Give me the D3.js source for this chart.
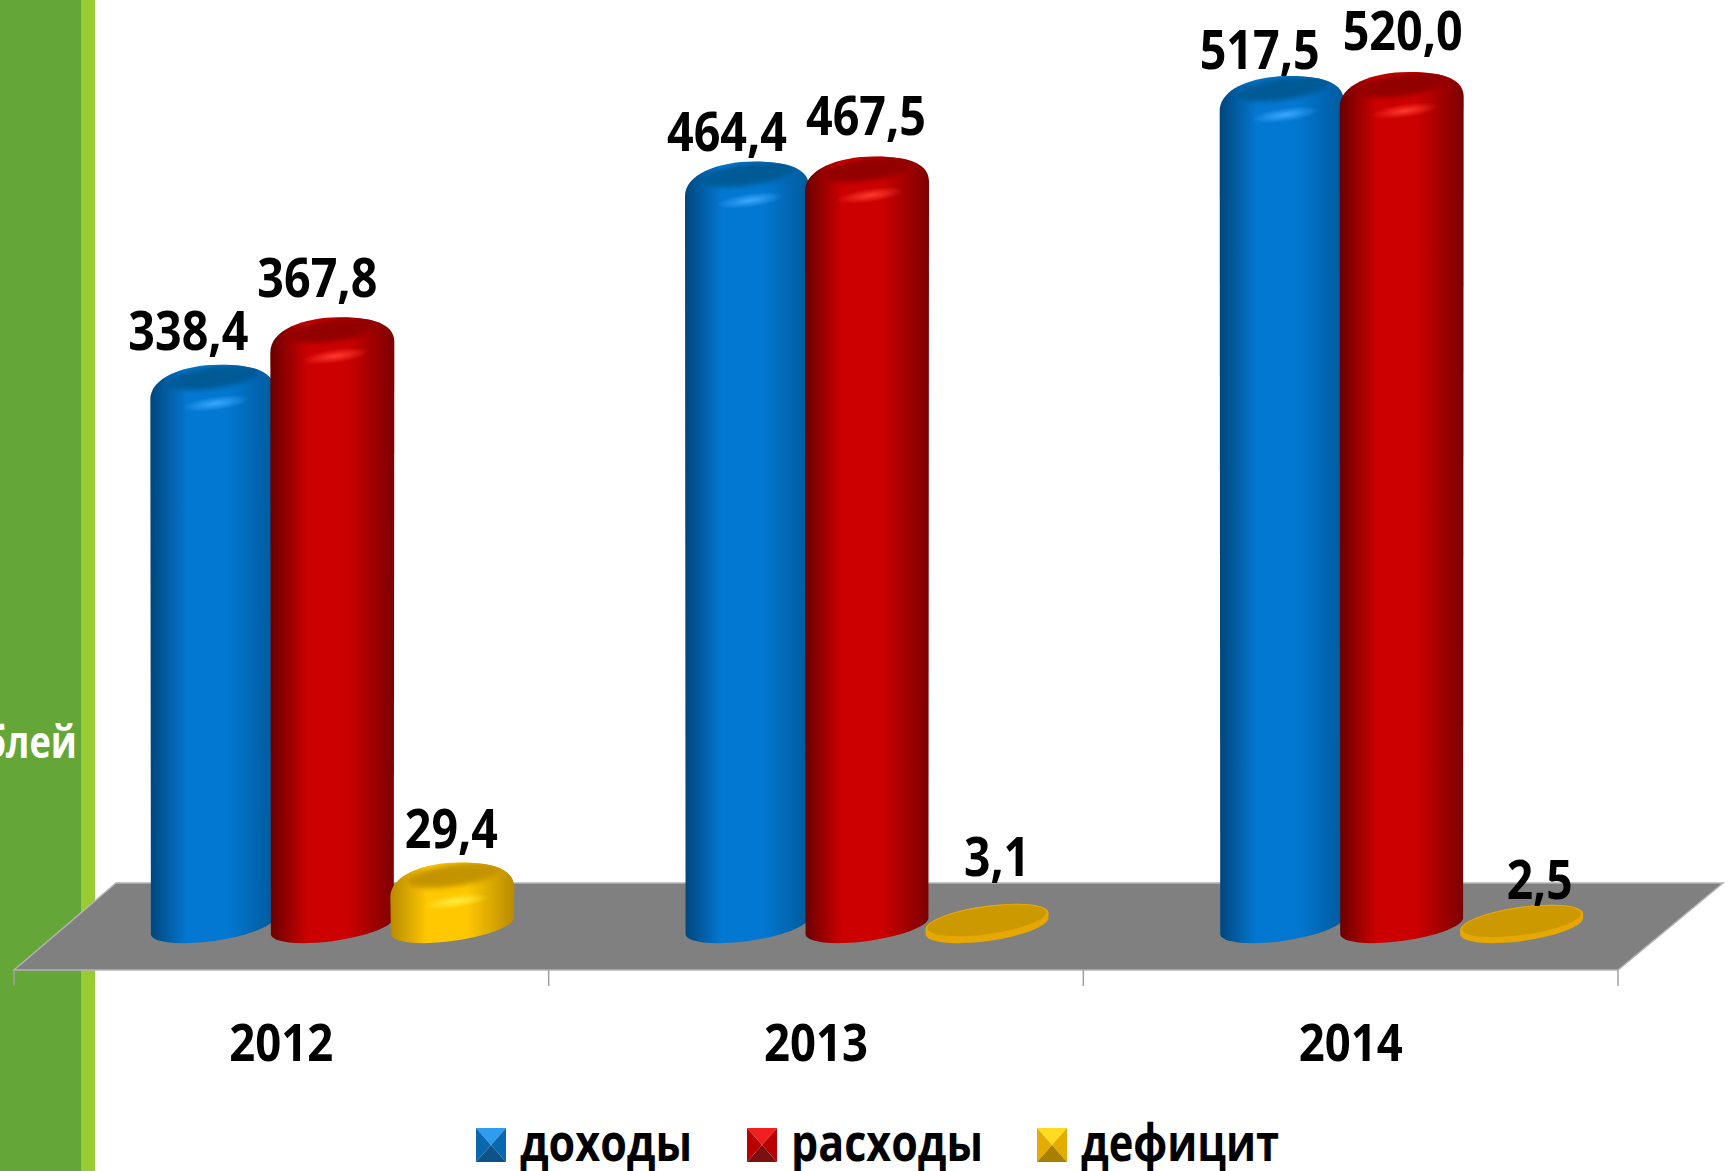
<!DOCTYPE html>
<html>
<head>
<meta charset="utf-8">
<script src="https://cdn.jsdelivr.net/npm/d3@7"></script>
<style>
  html, body { margin: 0; padding: 0; background: #fff; }
  svg { display: block; }
  text { font-family: "Open Sans", sans-serif; font-weight: 700; fill: #000; }
</style>
</head>
<body>
<div id="chart"></div>
<script>
var years = ["2012", "2013", "2014"];
var seriesNames = ["доходы", "расходы", "дефицит"];
var dohody = [338.4, 464.4, 517.5];
var rashody = [367.8, 467.5, 520.0];
var deficit = [29.4, 3.1, 2.5];

var width = 1736, height = 1171;
var rx = 62, ry = 15, tilt = -8;   // tilted ellipse of the cylinders

// hand placed data labels in the original, offset from top of each bar (year, series)
var labelDx = [[-24, -15, -1], [-20, -1, 10], [-22, 1, 18]];
var labelDy = [[-16, -21, -16], [-12, -23, -30], [-8, -23, -8]];

var colors = {
  "доходы": { edge: "#00467c", edge2: "#005a9c", mid: "#0378d2", cap: "#005a96", glow: "#3aa8ff", swTop: "#2f9cf0", swSide: "#0a68b0", swBot: "#0f5288" },
  "расходы": { edge: "#6a0000", edge2: "#7c0000", mid: "#cc0000", cap: "#930000", glow: "#ff3a30", swTop: "#f02020", swSide: "#b80000", swBot: "#7a1010" },
  "дефицит": { edge: "#b88a00", edge2: "#b88a00", mid: "#ffc800", cap: "#c49400", glow: "#ffec40", swTop: "#ffdc20", swSide: "#e4ac00", swBot: "#a88000" }
};

var svg = d3.select("#chart").append("svg")
  .attr("width", width)
  .attr("height", height);

// green strip on the left of the slide
svg.append("rect").attr("x", 0).attr("y", 0).attr("width", 81).attr("height", height).attr("fill", "#65a638");
svg.append("rect").attr("x", 81).attr("y", 0).attr("width", 14).attr("height", height).attr("fill", "#99cc33");
svg.append("text")
  .attr("x", 77).attr("y", 758)
  .attr("text-anchor", "end")
  .attr("textLength", 235)
  .attr("lengthAdjust", "spacingAndGlyphs")
  .style("font-size", "44px")
  .style("fill", "#fff")
  .text("млн. рублей");

var x = d3.scaleBand().domain(years).range([14, 1618]).paddingInner(0).paddingOuter(0);
var xSeries = d3.scalePoint().domain(seriesNames).range([-69, 171]);
var y = d3.scaleLinear().domain([0, 520]).range([926, 88]);

var defs = svg.append("defs");
seriesNames.forEach(function (name, i) {
  var c = colors[name];
  var grad = defs.append("linearGradient").attr("id", "body" + i);
  grad.append("stop").attr("offset", "0%").attr("stop-color", c.edge);
  grad.append("stop").attr("offset", "30%").attr("stop-color", c.mid);
  grad.append("stop").attr("offset", "62%").attr("stop-color", c.mid);
  grad.append("stop").attr("offset", "100%").attr("stop-color", c.edge2);

  var glow = defs.append("radialGradient").attr("id", "glow" + i);
  glow.append("stop").attr("offset", "0%").attr("stop-color", c.glow).attr("stop-opacity", 1);
  glow.append("stop").attr("offset", "100%").attr("stop-color", c.glow).attr("stop-opacity", 0);
});
var soft = defs.append("filter").attr("id", "soft")
  .attr("x", "-30%").attr("y", "-60%").attr("width", "160%").attr("height", "220%");
soft.append("feGaussianBlur").attr("stdDeviation", 2.5);

// floor
var floorG = svg.append("g");
var floorLeft = x.range()[0], floorRight = x.range()[1];
floorG.append("path")
  .attr("d", d3.line()([[floorLeft, 970], [floorLeft + 102, 883], [floorRight + 105, 883], [floorRight, 970]]) + "Z")
  .attr("fill", "#808080")
  .attr("stroke", "#b4b4b4")
  .attr("stroke-width", 1.5);

// ticks sit on the band edges
var tickPos = years.map(function (d) { return x(d); }).concat([floorRight]);
floorG.selectAll("line.tick-mark")
  .data(tickPos)
  .enter().append("line")
  .attr("class", "tick-mark")
  .attr("x1", function (d) { return d; })
  .attr("x2", function (d) { return d; })
  .attr("y1", 970)
  .attr("y2", 986)
  .attr("stroke", "#a0a0a0")
  .attr("stroke-width", 1.5);

var axis = svg.append("g")
  .attr("transform", "translate(0,1061)")
  .call(d3.axisBottom(x).tickSize(0).tickPadding(0));
axis.select(".domain").remove();
axis.selectAll("text")
  .attr("dy", 0).attr("y", 0)
  .attr("font-family", null)
  .attr("textLength", 104)
  .attr("lengthAdjust", "spacingAndGlyphs")
  .style("font-size", "52px")
  .style("fill", "#000");

function sidePoints(cx, cy) {
  var th = tilt * Math.PI / 180;
  var t = Math.atan2(-ry * Math.sin(th), rx * Math.cos(th));
  var dx = rx * Math.cos(t) * Math.cos(th) - ry * Math.sin(t) * Math.sin(th);
  var dy = rx * Math.cos(t) * Math.sin(th) + ry * Math.sin(t) * Math.cos(th);
  return { l: [cx - dx, cy - dy], r: [cx + dx, cy + dy] };
}

// flat discs: plain tilted ellipse on top
function discPath(cx, top, base) {
  var a = sidePoints(cx, top), b = sidePoints(cx, base);
  var arc = "A" + rx + "," + ry + " " + tilt + " 0 ";
  return "M" + a.l + "L" + b.l + arc + "0 " + b.r + "L" + a.r + arc + "0 " + a.l + "Z";
}

// tall bars: rounded shoulders like the bevel in the original
function bodyPath(cx, top, base) {
  var b = sidePoints(cx, base);
  var arc = "A" + rx + "," + ry + " " + tilt + " 0 ";
  return "M" + (cx - rx) + "," + (top + 19)
    + "L" + b.l + arc + "0 " + b.r
    + "L" + (cx + rx) + "," + (top + 9)
    + "C" + (cx + rx) + "," + (top - 7) + " " + (cx + rx - 16) + "," + (top - 16) + " " + (cx + 8) + "," + (top - 16)
    + "C" + (cx - 30) + "," + (top - 16) + " " + (cx - rx) + "," + (top - 3) + " " + (cx - rx) + "," + (top + 19) + "Z";
}

var allValues = [dohody, rashody, deficit];
var bars = [];
years.forEach(function (yr, yi) {
  seriesNames.forEach(function (name, si) {
    bars.push({ year: yr, yi: yi, name: name, si: si, value: allValues[si][yi] });
  });
});

var barG = svg.selectAll("g.bar")
  .data(bars)
  .enter().append("g")
  .attr("class", "bar");

barG.each(function (d, i) {
  var g = d3.select(this);
  var cx = x(d.year) + x.bandwidth() / 2 + xSeries(d.name);
  var top = y(d.value), base = y(0);
  var tall = base - top > 12;
  var rot = "rotate(" + tilt + " " + cx + " " + top + ")";

  if (tall) {
    // blurred cap must stay inside the silhouette
    defs.append("clipPath").attr("id", "clip" + i)
      .append("path").attr("d", bodyPath(cx, top, base));
    g.append("path")
      .attr("d", bodyPath(cx, top, base))
      .attr("fill", "url(#body" + d.si + ")");
    var inner = g.append("g").attr("clip-path", "url(#clip" + i + ")");
    inner.append("ellipse")
      .attr("cx", cx).attr("cy", top + 23)
      .attr("rx", 34).attr("ry", 7)
      .attr("transform", rot)
      .attr("fill", "url(#glow" + d.si + ")");
    inner.append("ellipse")
      .attr("cx", cx + 2).attr("cy", top - 3)
      .attr("rx", rx * 0.76).attr("ry", 11)
      .attr("transform", rot)
      .attr("fill", colors[d.name].cap)
      .attr("filter", "url(#soft)");
  } else {
    g.append("path")
      .attr("d", discPath(cx, top, base))
      .attr("fill", "#e6a800");
    g.append("ellipse")
      .attr("cx", cx).attr("cy", top)
      .attr("rx", rx).attr("ry", ry)
      .attr("transform", rot)
      .attr("fill", "#e6a800");
    g.append("ellipse")
      .attr("cx", cx).attr("cy", top - 0.5)
      .attr("rx", rx - 2).attr("ry", ry - 1.5)
      .attr("transform", rot)
      .attr("fill", "#cc9900");
  }
});

// value labels
svg.selectAll("text.value")
  .data(bars)
  .enter().append("text")
  .attr("class", "value")
  .attr("x", function (d) { return x(d.year) + x.bandwidth() / 2 + xSeries(d.name) + labelDx[d.yi][d.si]; })
  .attr("y", function (d) { return y(d.value) - ry + labelDy[d.yi][d.si]; })
  .attr("text-anchor", "middle")
  .attr("lengthAdjust", "spacingAndGlyphs")
  .attr("textLength", function (d) { return d.value >= 100 ? 120 : d.value >= 10 ? 93 : 66; })
  .style("font-size", "54px")
  .text(function (d) { return d3.format(".1f")(d.value).replace(".", ","); });

// legend
var legendSwatchX = [476, 747, 1037];
var legendTextX = [520, 791, 1081];
var legendTextW = [172, 192, 198];
var legend = svg.selectAll("g.legend")
  .data(seriesNames)
  .enter().append("g")
  .attr("class", "legend")
  .attr("transform", function (d, i) { return "translate(" + legendSwatchX[i] + ",1128)"; });

legend.each(function (d) {
  var g = d3.select(this), c = colors[d];
  var w = 30, h = 34;
  var mx = w / 2, my = h / 2;
  g.append("polygon").attr("points", [[0, 0], [w, 0], [mx, my]].join(" ")).attr("fill", c.swTop);
  g.append("polygon").attr("points", [[0, 0], [mx, my], [0, h]].join(" ")).attr("fill", c.swSide);
  g.append("polygon").attr("points", [[w, 0], [mx, my], [w, h]].join(" ")).attr("fill", c.swSide);
  g.append("polygon").attr("points", [[0, h], [w, h], [mx, my]].join(" ")).attr("fill", c.swBot);
});

legend.append("text")
  .attr("x", function (d, i) { return legendTextX[i] - legendSwatchX[i]; })
  .attr("y", 33)
  .attr("textLength", function (d, i) { return legendTextW[i]; })
  .attr("lengthAdjust", "spacingAndGlyphs")
  .style("font-size", "52px")
  .text(function (d) { return d; });
</script>
</body>
</html>
